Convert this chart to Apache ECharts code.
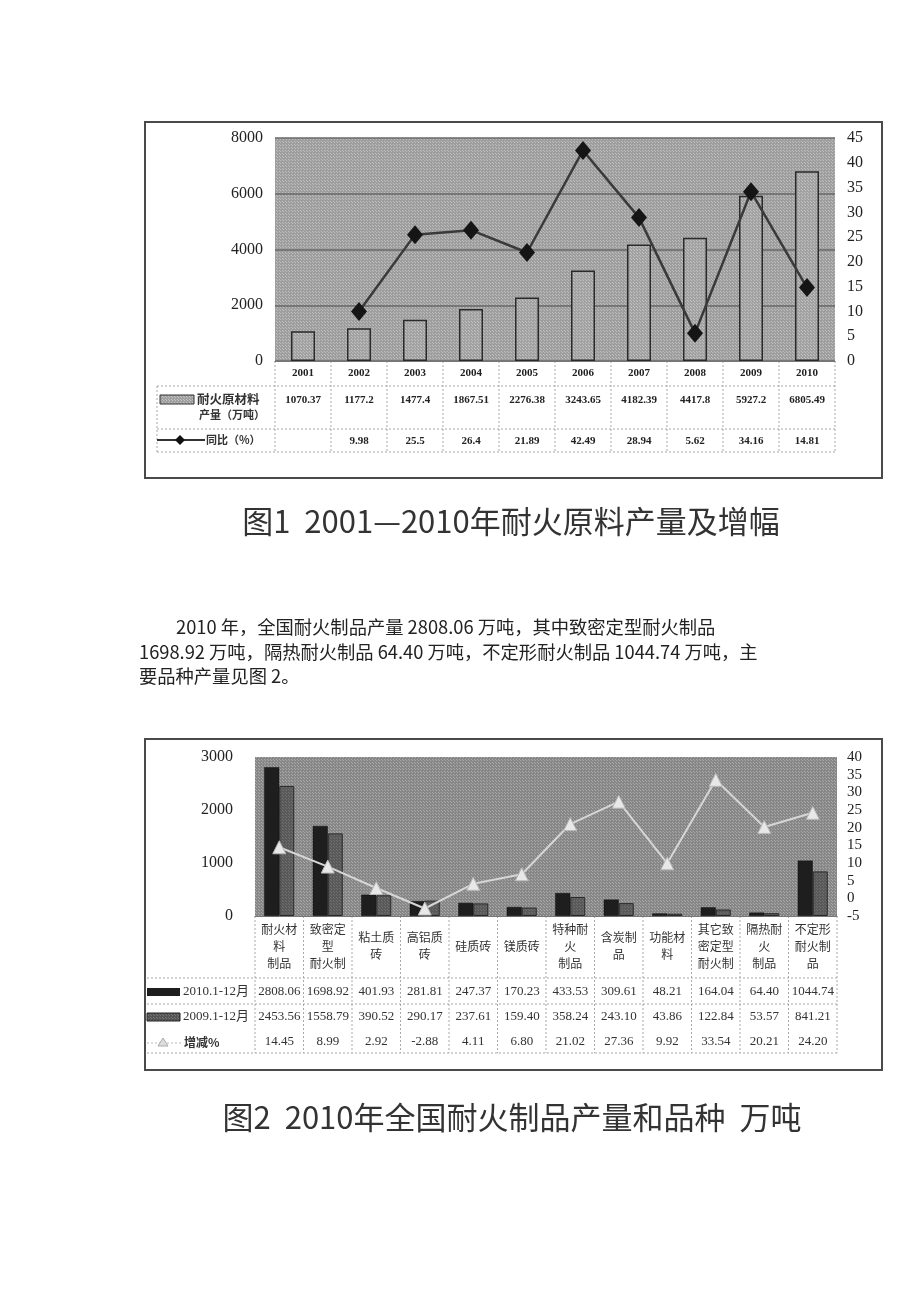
<!DOCTYPE html>
<html><head><meta charset="utf-8">
<script src="https://cdn.jsdelivr.net/npm/echarts@6/dist/echarts.min.js"></script>
<style>html,body{margin:0;padding:0;background:#fff}#c{width:920px;height:1302px}</style>
</head><body><div id="c"></div>
<script>
// ---- Figure 1 data ----
const years = ['2001','2002','2003','2004','2005','2006','2007','2008','2009','2010'];
const rawOutput = [1070.37,1177.2,1477.4,1867.51,2276.38,3243.65,4182.39,4417.8,5927.2,6805.49];
const rawGrowth = [null,9.98,25.5,26.4,21.89,42.49,28.94,5.62,34.16,14.81];
const leftTicks1 = {min:0,max:8000,interval:2000};
const rightTicks1 = {min:0,max:45,interval:5};

// ---- Figure 2 data ----
const products = ['耐火材\n料\n制品','致密定\n型\n耐火制','粘土质\n砖','高铝质\n砖','硅质砖','镁质砖','特种耐\n火\n制品','含炭制\n品','功能材\n料','其它致\n密定型\n耐火制','隔热耐\n火\n制品','不定形\n耐火制\n品'];
const prod2010 = [2808.06,1698.92,401.93,281.81,247.37,170.23,433.53,309.61,48.21,164.04,64.40,1044.74];
const prod2009 = [2453.56,1558.79,390.52,290.17,237.61,159.40,358.24,243.10,43.86,122.84,53.57,841.21];
const prodChange = [14.45,8.99,2.92,-2.88,4.11,6.80,21.02,27.36,9.92,33.54,20.21,24.20];
const leftTicks2 = {min:0,max:3000,interval:1000};
const rightTicks2 = {min:-5,max:40,interval:5};

function makePattern(base, dot){
  const c = document.createElement('canvas'); c.width = 3; c.height = 3;
  const g = c.getContext('2d');
  g.fillStyle = base; g.fillRect(0,0,3,3);
  g.fillStyle = dot; g.fillRect(0,0,1,1); g.fillRect(1,1,1,1);
  return {image:c, repeat:'repeat'};
}

const G1 = {left:275, top:138, width:560, height:223};
const G2 = {left:255, top:757, width:582, height:159};
const serif = 'Liberation Serif';
const cjk = 'Noto Sans CJK SC';
const plain = v => String(v);

const chart = echarts.init(document.getElementById('c'), null, {renderer:'canvas'});

function rowAxis(gi, cats, offset, fmt, extra){
  return Object.assign({
    type:'category', gridIndex:gi, data:cats, position:'bottom', offset:offset,
    axisLine:{show:false}, axisTick:{show:false}, splitLine:{show:false},
    axisLabel:{interval:0, margin:0, verticalAlign:'middle', formatter:fmt,
      fontFamily:serif, fontSize:13, color:'#333'}
  }, extra||{});
}

const graphics = [];
// frames
graphics.push({type:'rect', shape:{x:145,y:122,width:737,height:356}, style:{fill:'none',stroke:'#4a4a4a',lineWidth:2}, z:10});
graphics.push({type:'rect', shape:{x:145,y:739,width:737,height:331}, style:{fill:'none',stroke:'#4a4a4a',lineWidth:2}, z:10});
const dot = {stroke:'#a8a8a8', lineWidth:1, lineDash:[2,2]};
// table 1 lines
const cw1 = G1.width / years.length;
for (let i=0;i<=years.length;i++){
  const x = G1.left + i*cw1;
  graphics.push({type:'line', shape:{x1:x,y1:361,x2:x,y2:452}, style:dot});
}
graphics.push({type:'line', shape:{x1:157,y1:386,x2:157,y2:452}, style:dot});
[386,429,452].forEach(y=>graphics.push({type:'line', shape:{x1:157,y1:y,x2:G1.left+G1.width,y2:y}, style:dot}));
// table 2 lines
const cw2 = G2.width / products.length;
for (let i=0;i<=products.length;i++){
  const x = G2.left + i*cw2;
  graphics.push({type:'line', shape:{x1:x,y1:916,x2:x,y2:1053}, style:dot});
}
[978,1004,1053].forEach(y=>graphics.push({type:'line', shape:{x1:147,y1:y,x2:G2.left+G2.width,y2:y}, style:dot}));

// legend of table 1
graphics.push({type:'rect', shape:{x:160,y:395,width:34,height:9}, style:{fill:makePattern('#a0a0a0','#c4c4c4'),stroke:'#333',lineWidth:1}});
graphics.push({type:'text', x:197, y:399, style:{text:'耐火原材料', font:'bold 12.5px "Noto Sans CJK SC"', fill:'#333', textVerticalAlign:'middle'}});
graphics.push({type:'text', x:199, y:415, style:{text:'产量（万吨）', font:'bold 11px "Noto Sans CJK SC"', fill:'#333', textVerticalAlign:'middle'}});
graphics.push({type:'line', shape:{x1:157,y1:440,x2:205,y2:440}, style:{stroke:'#333',lineWidth:2}});
graphics.push({type:'polygon', shape:{points:[[180,435],[185,440],[180,445],[175,440]]}, style:{fill:'#111'}});
graphics.push({type:'text', x:206, y:440, style:{text:'同比（%）', font:'bold 11px "Noto Sans CJK SC"', fill:'#333', textVerticalAlign:'middle'}});

// legend of table 2
graphics.push({type:'rect', shape:{x:147,y:988,width:33,height:8}, style:{fill:'#1e1e1e'}});
graphics.push({type:'text', x:183, y:992, style:{text:'2010.1-12月', font:'13px "Liberation Serif","Noto Sans CJK SC"', fill:'#333', textVerticalAlign:'middle'}});
graphics.push({type:'rect', shape:{x:147,y:1013,width:33,height:8}, style:{fill:makePattern('#555','#777'),stroke:'#222',lineWidth:1}});
graphics.push({type:'text', x:183, y:1017, style:{text:'2009.1-12月', font:'13px "Liberation Serif","Noto Sans CJK SC"', fill:'#333', textVerticalAlign:'middle'}});
graphics.push({type:'line', shape:{x1:147,y1:1043,x2:181,y2:1043}, style:{stroke:'#bbb',lineWidth:1,lineDash:[2,2]}});
graphics.push({type:'polygon', shape:{points:[[163,1038],[168,1046],[158,1046]]}, style:{fill:'#ddd',stroke:'#aaa',lineWidth:1}});
graphics.push({type:'text', x:184, y:1042, style:{text:'增减%', font:'bold 12px "Noto Sans CJK SC"', fill:'#333', textVerticalAlign:'middle'}});

// captions
graphics.push({type:'text', x:511, y:521, style:{text:'图1  2001—2010年耐火原料产量及增幅', font:'31px "Noto Sans CJK SC"', fill:'#333', textAlign:'center', textVerticalAlign:'middle'}});
graphics.push({type:'text', x:512, y:1117, style:{text:'图2  2010年全国耐火制品产量和品种  万吨', font:'31px "Noto Sans CJK SC"', fill:'#333', textAlign:'center', textVerticalAlign:'middle'}});

// paragraph
const para = [
  {x:176, y:627, t:'2010 年，全国耐火制品产量 2808.06 万吨，其中致密定型耐火制品'},
  {x:139, y:652, t:'1698.92 万吨，隔热耐火制品 64.40 万吨，不定形耐火制品 1044.74 万吨，主'},
  {x:139, y:676, t:'要品种产量见图 2。'}
];
para.forEach(p=>graphics.push({type:'text', x:p.x, y:p.y, style:{text:p.t, font:'18.3px "Noto Sans CJK SC"', fill:'#222', textVerticalAlign:'middle'}}));

const option = {
  backgroundColor:'#fff',
  animation:false,
  grid:[
    Object.assign({show:true, backgroundColor:makePattern('#9e9e9e','#bfbfbf'), borderWidth:0}, G1),
    Object.assign({show:true, backgroundColor:makePattern('#878787','#aaaaaa'), borderWidth:0}, G2)
  ],
  xAxis:[
    {type:'category', gridIndex:0, data:years, axisLine:{lineStyle:{color:'#777'}}, axisTick:{show:false},
     axisLabel:{interval:0, margin:12, verticalAlign:'middle', fontFamily:serif, fontWeight:'bold', fontSize:11, color:'#222'}},
    rowAxis(0, years, 39, null, {axisLabel:{interval:0, margin:0, verticalAlign:'middle', formatter:(v,i)=>String(rawOutput[i]), fontFamily:serif, fontWeight:'bold', fontSize:11, color:'#222'}}),
    rowAxis(0, years, 80, null, {axisLabel:{interval:0, margin:0, verticalAlign:'middle', formatter:(v,i)=>rawGrowth[i]==null?'':String(rawGrowth[i]), fontFamily:serif, fontWeight:'bold', fontSize:11, color:'#222'}}),
    {type:'category', gridIndex:1, data:products, axisLine:{lineStyle:{color:'#777'}}, axisTick:{show:false},
     axisLabel:{interval:0, margin:30, verticalAlign:'middle', lineHeight:17, fontFamily:cjk, fontSize:12, color:'#333'}},
    rowAxis(1, products, 76, (v,i)=>prod2010[i].toFixed(2)),
    rowAxis(1, products, 101, (v,i)=>prod2009[i].toFixed(2)),
    rowAxis(1, products, 126, (v,i)=>prodChange[i].toFixed(2))
  ],
  yAxis:[
    Object.assign({type:'value', gridIndex:0, position:'left', axisLine:{show:false}, axisTick:{show:false},
      splitLine:{lineStyle:{color:'#676767', width:1.5}},
      axisLabel:{margin:12, formatter:plain, fontFamily:serif, fontSize:16, color:'#222'}}, leftTicks1),
    Object.assign({type:'value', gridIndex:0, position:'right', axisLine:{show:false}, axisTick:{show:false},
      splitLine:{show:false}, axisLabel:{margin:12, formatter:plain, fontFamily:serif, fontSize:16, color:'#222'}}, rightTicks1),
    Object.assign({type:'value', gridIndex:1, position:'left', axisLine:{show:false}, axisTick:{show:false},
      splitLine:{show:false}, axisLabel:{margin:22, formatter:plain, fontFamily:serif, fontSize:16, color:'#222'}}, leftTicks2),
    Object.assign({type:'value', gridIndex:1, position:'right', axisLine:{show:false}, axisTick:{show:false},
      splitLine:{show:false}, axisLabel:{margin:10, formatter:plain, fontFamily:serif, fontSize:15, color:'#222'}}, rightTicks2)
  ],
  series:[
    {name:'耐火原材料产量（万吨）', type:'bar', xAxisIndex:0, yAxisIndex:0, data:rawOutput, barWidth:24,
     itemStyle:{color:makePattern('#a2a2a2','#c2c2c2'), borderColor:'#2a2a2a', borderWidth:1.5}},
    {name:'同比（%）', type:'line', xAxisIndex:0, yAxisIndex:1, data:rawGrowth, symbol:'diamond', symbolSize:[16,19],
     lineStyle:{color:'#3a3a3a', width:2.5}, itemStyle:{color:'#151515'}, z:5},
    {name:'2010.1-12月', type:'bar', xAxisIndex:3, yAxisIndex:2, data:prod2010, barWidth:15, barGap:'0%',
     itemStyle:{color:'#1e1e1e', borderColor:'#111', borderWidth:0.5}},
    {name:'2009.1-12月', type:'bar', xAxisIndex:3, yAxisIndex:2, data:prod2009, barWidth:15, barGap:'0%',
     itemStyle:{color:makePattern('#595959','#707070'), borderColor:'#2a2a2a', borderWidth:1}},
    {name:'增减%', type:'line', xAxisIndex:3, yAxisIndex:3, data:prodChange, symbol:'triangle', symbolSize:13,
     lineStyle:{color:'#d6d6d6', width:2}, itemStyle:{color:'#e8e8e8', borderColor:'#b8b8b8', borderWidth:1}, z:5}
  ],
  graphic: graphics
};
chart.setOption(option);
</script></body></html>
